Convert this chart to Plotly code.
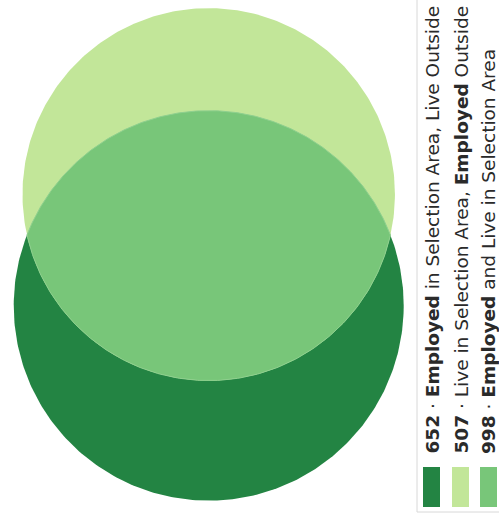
import math
import numpy as np
import plotly.graph_objects as go

# ---- data ----
labels = ["Employed in Selection Area, Live Outside",
          "Live in Selection Area, Employed Outside",
          "Employed and Live in Selection Area"]
only_employed = 652
only_live = 507
both = 998
values = [only_employed, only_live, both]
colors = ["#238443", "#c2e699", "#78c679"]

# ---- area-proportional Venn geometry ----
set_employed = only_employed + both
set_live = only_live + both
r1 = math.sqrt(set_employed / math.pi)
r2 = math.sqrt(set_live / math.pi)


def lens_area(d, ra, rb):
    if d >= ra + rb:
        return 0.0
    if d <= abs(ra - rb):
        return math.pi * min(ra, rb) ** 2
    p1 = ra * ra * math.acos((d * d + ra * ra - rb * rb) / (2 * d * ra))
    p2 = rb * rb * math.acos((d * d + rb * rb - ra * ra) / (2 * d * rb))
    p3 = 0.5 * math.sqrt((-d + ra + rb) * (d + ra - rb) * (d - ra + rb) * (d + ra + rb))
    return p1 + p2 - p3


lo, hi = abs(r1 - r2) + 1e-9, r1 + r2
for _ in range(100):
    mid = (lo + hi) / 2
    if lens_area(mid, r1, r2) > both:
        lo = mid
    else:
        hi = mid
d = (lo + hi) / 2

yA = -d / 2   # employed (bottom) circle centre
yB = d / 2    # live (top) circle centre

t = np.linspace(0, 2 * np.pi, 400)
ax_ = r1 * np.cos(t); ay_ = yA + r1 * np.sin(t)
bx_ = r2 * np.cos(t); by_ = yB + r2 * np.sin(t)

a = (d * d + r1 * r1 - r2 * r2) / (2 * d)
h = math.sqrt(r1 * r1 - a * a)
th0 = math.atan2(a, h)
tA = np.linspace(th0, math.pi - th0, 200)
t1 = math.atan2(a - d, h)
tB = np.linspace(math.pi - t1, 2 * math.pi + t1, 200)
lx = np.concatenate([r1 * np.cos(tA), r2 * np.cos(tB)])
ly = np.concatenate([yA + r1 * np.sin(tA), yB + r2 * np.sin(tB)])

fig = go.Figure()
fig.add_trace(go.Scatter(x=ax_, y=ay_, fill="toself", fillcolor=colors[0],
                         mode="lines", line=dict(width=0), hoverinfo="skip"))
fig.add_trace(go.Scatter(x=bx_, y=by_, fill="toself", fillcolor=colors[1],
                         mode="lines", line=dict(width=0), hoverinfo="skip"))
fig.add_trace(go.Scatter(x=lx, y=ly, fill="toself", fillcolor=colors[2],
                         mode="lines", line=dict(width=1, color="#8fd08f"), hoverinfo="skip"))

W, H = 499, 527
k = 195.0 / r1            # pixels per unit
cx_px, cy_px = 208.7, 250.0
x0 = -cx_px / k; x1 = (W - cx_px) / k
y1 = cy_px / k; y0 = -(H - cy_px) / k

shapes = []
annotations = []
# legend box
shapes.append(dict(type="rect", xref="paper", yref="paper",
                   x0=417 / W, x1=520 / W, y0=1 - 512 / H, y1=1 + 10 / H,
                   line=dict(color="#d8d8d8", width=1), fillcolor="rgba(0,0,0,0)"))
sw_x = [423, 452, 480]
for i, (lab, val, col) in enumerate(zip(labels, values, colors)):
    xl = sw_x[i]
    shapes.append(dict(type="rect", xref="paper", yref="paper",
                       x0=xl / W, x1=(xl + 17) / W, y0=1 - 507 / H, y1=1 - 467 / H,
                       line=dict(width=0), fillcolor=col))
    txt = lab.replace("Employed", "<b>Employed</b>")
    annotations.append(dict(xref="paper", yref="paper", x=(xl + 8.5) / W, y=1 - 456 / H,
                            text=f"<b>{val}</b> · {txt}", textangle=-90,
                            xanchor="center", yanchor="bottom", showarrow=False,
                            font=dict(family="DejaVu Sans", size=18.5, color="#2a2a2a")))

fig.update_layout(width=W, height=H, margin=dict(l=0, r=0, t=0, b=0),
                  paper_bgcolor="white", plot_bgcolor="white", showlegend=False,
                  xaxis=dict(range=[x0, x1], visible=False, fixedrange=True),
                  yaxis=dict(range=[y0, y1], visible=False, fixedrange=True),
                  shapes=shapes, annotations=annotations, hovermode=False)
fig.write_html("out.html", config={"displayModeBar": False},
               post_script="document.body.style.margin='0';document.body.style.overflow='hidden';")
